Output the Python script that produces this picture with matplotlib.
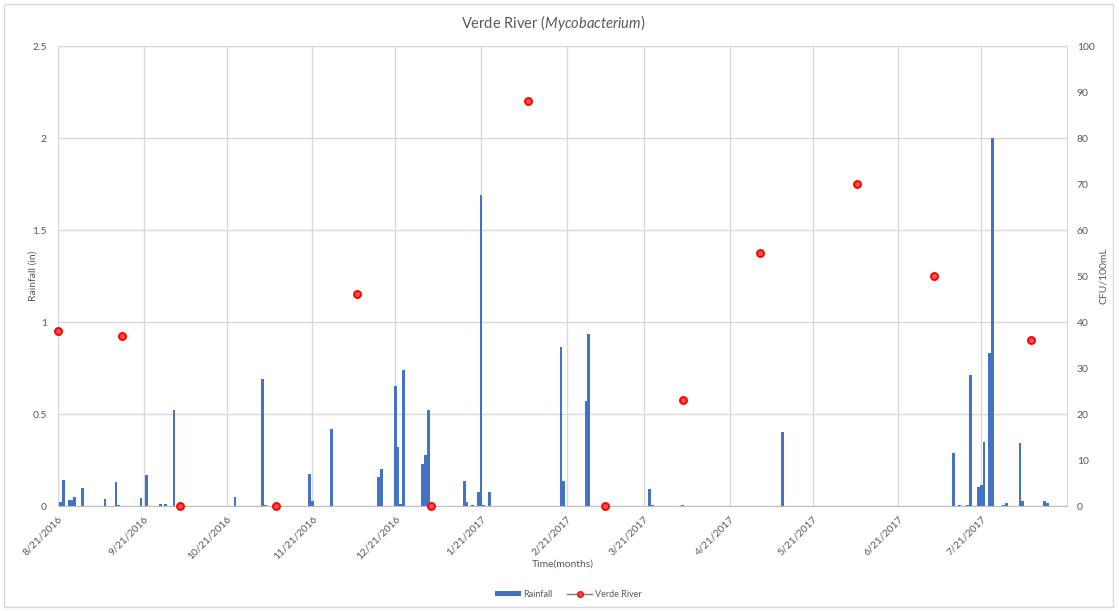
import matplotlib
matplotlib.use('Agg')
import matplotlib.pyplot as plt
from matplotlib.lines import Line2D
from matplotlib.patches import Patch, Rectangle
import numpy as np
import pandas as pd

plt.rcParams['font.family'] = ['Lato', 'DejaVu Sans']
plt.rcParams['mathtext.fontset'] = 'custom'
plt.rcParams['mathtext.it'] = 'Lato:italic'
plt.rcParams['mathtext.rm'] = 'Lato'

# daily rainfall (in), only the days it rained
rain_dates = ['2016-08-22', '2016-08-23', '2016-08-25', '2016-08-26', '2016-08-27',
              '2016-08-30', '2016-09-07', '2016-09-11', '2016-09-12', '2016-09-20',
              '2016-09-22', '2016-09-27', '2016-09-29', '2016-10-02', '2016-10-24',
              '2016-11-03', '2016-11-04', '2016-11-20', '2016-11-21', '2016-11-28',
              '2016-12-15', '2016-12-16', '2016-12-21', '2016-12-22', '2016-12-23',
              '2016-12-24', '2016-12-31', '2017-01-01', '2017-01-02', '2017-01-15',
              '2017-01-16', '2017-01-18', '2017-01-20', '2017-01-21', '2017-01-22',
              '2017-01-24', '2017-02-19', '2017-02-20', '2017-02-28', '2017-03-01',
              '2017-03-23', '2017-03-24', '2017-04-04', '2017-05-10', '2017-07-11',
              '2017-07-13', '2017-07-16', '2017-07-17', '2017-07-20', '2017-07-21',
              '2017-07-22', '2017-07-24', '2017-07-25', '2017-07-29', '2017-07-30',
              '2017-08-04', '2017-08-05', '2017-08-13', '2017-08-14']
rain_in = [0.02, 0.14, 0.035, 0.035, 0.05,
           0.10, 0.04, 0.13, 0.005, 0.045,
           0.17, 0.01, 0.01, 0.52, 0.05,
           0.69, 0.005, 0.175, 0.03, 0.42,
           0.16, 0.20, 0.65, 0.32, 0.01,
           0.74, 0.23, 0.28, 0.52, 0.135,
           0.02, 0.005, 0.075, 1.69, 0.005,
           0.075, 0.865, 0.135, 0.57, 0.935,
           0.09, 0.005, 0.003, 0.40, 0.29,
           0.005, 0.005, 0.71, 0.105, 0.115,
           0.35, 0.83, 2.0, 0.005, 0.015,
           0.34, 0.025, 0.03, 0.015]

# Mycobacterium counts at the Verde River site (CFU/100mL)
sample_dates = ['2016-08-21', '2016-09-13', '2016-10-04', '2016-11-08', '2016-12-07',
                '2017-01-03', '2017-02-07', '2017-03-07', '2017-04-04', '2017-05-02',
                '2017-06-06', '2017-07-04', '2017-08-08']
cfu = [38, 37, 0, 0, 46, 0, 88, 0, 23, 55, 70, 50, 36]

tick_dates = ['2016-08-21', '2016-09-21', '2016-10-21', '2016-11-21', '2016-12-21',
              '2017-01-21', '2017-02-21', '2017-03-21', '2017-04-21', '2017-05-21',
              '2017-06-21', '2017-07-21']
tick_labels = ['8/21/2016', '9/21/2016', '10/21/2016', '11/21/2016', '12/21/2016',
               '1/21/2017', '2/21/2017', '3/21/2017', '4/21/2017', '5/21/2017',
               '6/21/2017', '7/21/2017']

txt = '#595959'
grid = '#d9d9d9'
blue = '#4472c4'

fig = plt.figure(figsize=(11.19, 6.11), dpi=100)
ax = fig.add_axes([0.0518, 0.1718, 0.9017, 0.7529])

rd = pd.to_datetime(rain_dates)
ax.bar(rd, rain_in, width=1.0, color=blue, zorder=2)

ax.set_xlim(pd.Timestamp('2016-08-21'), pd.Timestamp('2017-08-21'))
ax.set_ylim(0, 2.5)
ax.set_yticks([0, 0.5, 1, 1.5, 2, 2.5])
ax.set_yticklabels(['0', '0.5', '1', '1.5', '2', '2.5'])
ax.set_xticks(pd.to_datetime(tick_dates))
ax.set_xticklabels(tick_labels, rotation=45, ha='right', rotation_mode='anchor')

ax.grid(True, color=grid, linewidth=1, zorder=0)
ax.set_axisbelow(True)
for s in ['top', 'left', 'right']:
    ax.spines[s].set_color(grid)
ax.spines['bottom'].set_color('#bfbfbf')
ax.tick_params(axis='both', length=0, colors=txt, labelsize=7.5)
ax.tick_params(axis='x', pad=6)
ax.tick_params(axis='y', pad=8)

ax.set_ylabel('Rainfall (in)', color=txt, fontsize=7.5, labelpad=-4)
ax.set_xlabel('Time(months)', color=txt, fontsize=7.5, labelpad=-1)

ax2 = ax.twinx()
ax2.set_ylim(0, 100)
ax2.set_yticks(np.arange(0, 101, 10))
ax2.tick_params(axis='y', length=0, colors=txt, labelsize=7.5, pad=7)
for s in ax2.spines.values():
    s.set_visible(False)
ax2.plot(pd.to_datetime(sample_dates), cfu, linestyle='none', marker='o',
         markersize=5, markerfacecolor='#ff5050', markeredgecolor='#ff0000',
         markeredgewidth=1.4, clip_on=False, zorder=3)
ax2.set_ylabel('CFU/100mL', color=txt, fontsize=7.5, labelpad=3)

fig.text(0.494, 0.962, 'Verde River ($\\mathit{Mycobacterium}$)',
         ha='center', va='center', color=txt, fontsize=10.5)

handles = [Patch(facecolor=blue, edgecolor='none'),
           Line2D([], [], color='#7f7f7f', linewidth=1, marker='o', markersize=4,
                  markerfacecolor='#ff5050', markeredgecolor='#ff0000')]
fig.legend(handles, ['Rainfall', 'Verde River'], loc='center', bbox_to_anchor=(0.508, 0.027),
           ncol=2, frameon=False, fontsize=6.5, labelcolor=txt, handlelength=2.8,
           handleheight=0.4, columnspacing=1.6, handletextpad=0.3)

fig.patches.append(Rectangle((0.004, 0.006), 0.991, 0.988, transform=fig.transFigure,
                             fill=False, edgecolor=grid, linewidth=1))

fig.savefig('out.png', dpi=100)
